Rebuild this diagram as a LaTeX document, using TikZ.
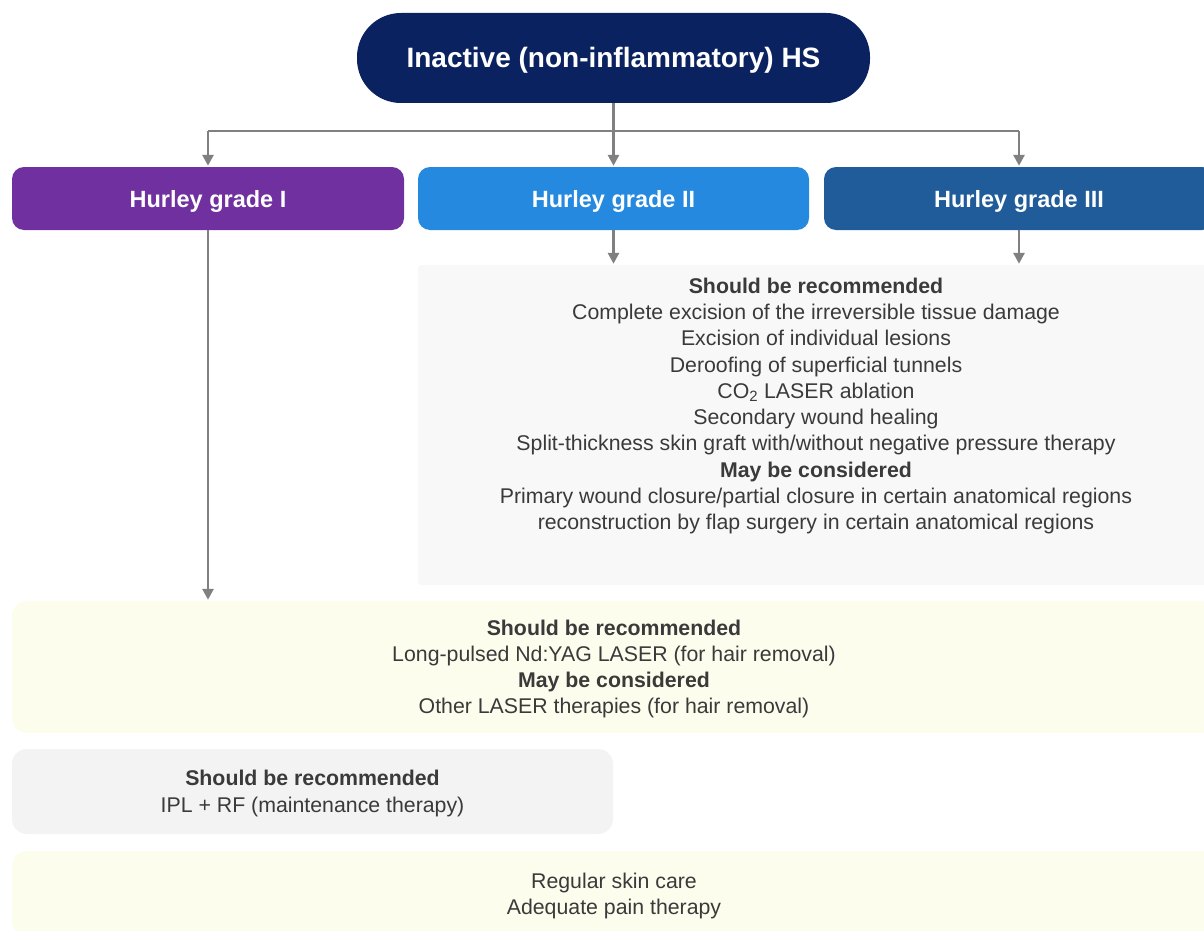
\documentclass[tikz,border=0pt]{standalone}
\usepackage{fontspec}
\setmainfont{Liberation Sans}
\usetikzlibrary{arrows.meta}
\definecolor{navy}{HTML}{0B2260}
\definecolor{gpurple}{HTML}{7030A0}
\definecolor{gblue}{HTML}{2589E0}
\definecolor{gdblue}{HTML}{1F5C99}
\definecolor{lgray}{HTML}{F8F8F8}
\definecolor{lgray2}{HTML}{F3F3F4}
\definecolor{lyellow}{HTML}{FDFDEE}
\definecolor{txt}{HTML}{3A3A3A}
\definecolor{conncol}{HTML}{808080}
\tikzset{
  hdrbox/.style={rounded corners=12pt, minimum width=392pt, minimum height=63pt, text=white,
    font=\fontsize{23.5}{28}\selectfont\bfseries, inner sep=0pt},
  hdrtext/.style={text=white, font=\fontsize{23.5}{28}\selectfont\bfseries, inner sep=0pt, yshift=-2.5pt},
  panel/.style={inner sep=0pt},
  body/.style={text=txt, align=center, font=\fontsize{21.3}{26.3}\selectfont, inner sep=0pt, yshift=-2.5pt},
  conn/.style={draw=conncol, line width=2.8pt},
  arr/.style={conn, -{Triangle[width=11pt,length=11pt]}, shorten >=1pt}
}
\begin{document}
\begin{tikzpicture}[x=1pt,y=-1pt]
\useasboundingbox (0,0) rectangle (1204,931);
\clip (0,0) rectangle (1204,931);
% top
\node[fill=navy, rounded corners=44pt, minimum width=513pt, minimum height=90pt, inner sep=0pt] (top) at (613.5,58) {};
\node[text=white, font=\fontsize{28}{32}\selectfont\bfseries, inner sep=0pt, yshift=-2.5pt] (toptext) at (top.center) {Inactive (non-inflammatory) HS};
% grades
\node[hdrbox, fill=gpurple] (g1) at (208,198.5) {};
\node[hdrtext] (g1t) at (g1.center) {Hurley grade I};
\node[hdrbox, fill=gblue, minimum width=391pt] (g2) at (613.5,198.5) {};
\node[hdrtext] (g2t) at (g2.center) {Hurley grade II};
\node[hdrbox, fill=gdblue, minimum width=390pt] (g3) at (1019,198.5) {};
\node[hdrtext] (g3t) at (g3.center) {Hurley grade III};
% panels
\node[panel, fill=lgray, rounded corners=3pt, minimum width=796pt, minimum height=320pt] (p1) at (816,425) {};
\node[body] (t1) at (816,403.5) {\textbf{Should be recommended}\\
Complete excision of the irreversible tissue damage\\
Excision of individual lesions\\
Deroofing of superficial tunnels\\
CO\textsubscript{2} LASER ablation\\
Secondary wound healing\\
Split-thickness skin graft with/without negative pressure therapy\\
\textbf{May be considered}\\
Primary wound closure/partial closure in certain anatomical regions\\
reconstruction by flap surgery in certain anatomical regions};
\node[panel, fill=lyellow, rounded corners=15pt, minimum width=1204pt, minimum height=132pt] (p2) at (614,667) {};
\node[body] (t2) at (614,666.5) {\textbf{Should be recommended}\\
Long-pulsed Nd:YAG LASER (for hair removal)\\
\textbf{May be considered}\\
Other LASER therapies (for hair removal)};
\node[panel, fill=lgray2, rounded corners=15pt, minimum width=601pt, minimum height=85pt] (p3) at (312.5,791.5) {};
\node[body] (t3) at (312.5,791) {\textbf{Should be recommended}\\
IPL + RF (maintenance therapy)};
\node[panel, fill=lyellow, rounded corners=15pt, minimum width=1204pt, minimum height=85pt] (p4) at (614,893.5) {};
\node[body] (t4) at (614,893.5) {Regular skin care\\
Adequate pain therapy};
% connectors
\coordinate (bus) at (613.5,131);
\draw[conn] (g1.north |- bus) -- (g3.north |- bus);
\draw[arr] (top.south) -- (g2.north);
\draw[arr] (g1.north |- bus) -- (g1.north);
\draw[arr] (g3.north |- bus) -- (g3.north);
\draw[arr] (g2.south) -- (g2.south |- p1.north);
\draw[arr] (g3.south) -- (g3.south |- p1.north);
\draw[arr] (g1.south) -- (g1.south |- p2.north);
\end{tikzpicture}
\end{document}
